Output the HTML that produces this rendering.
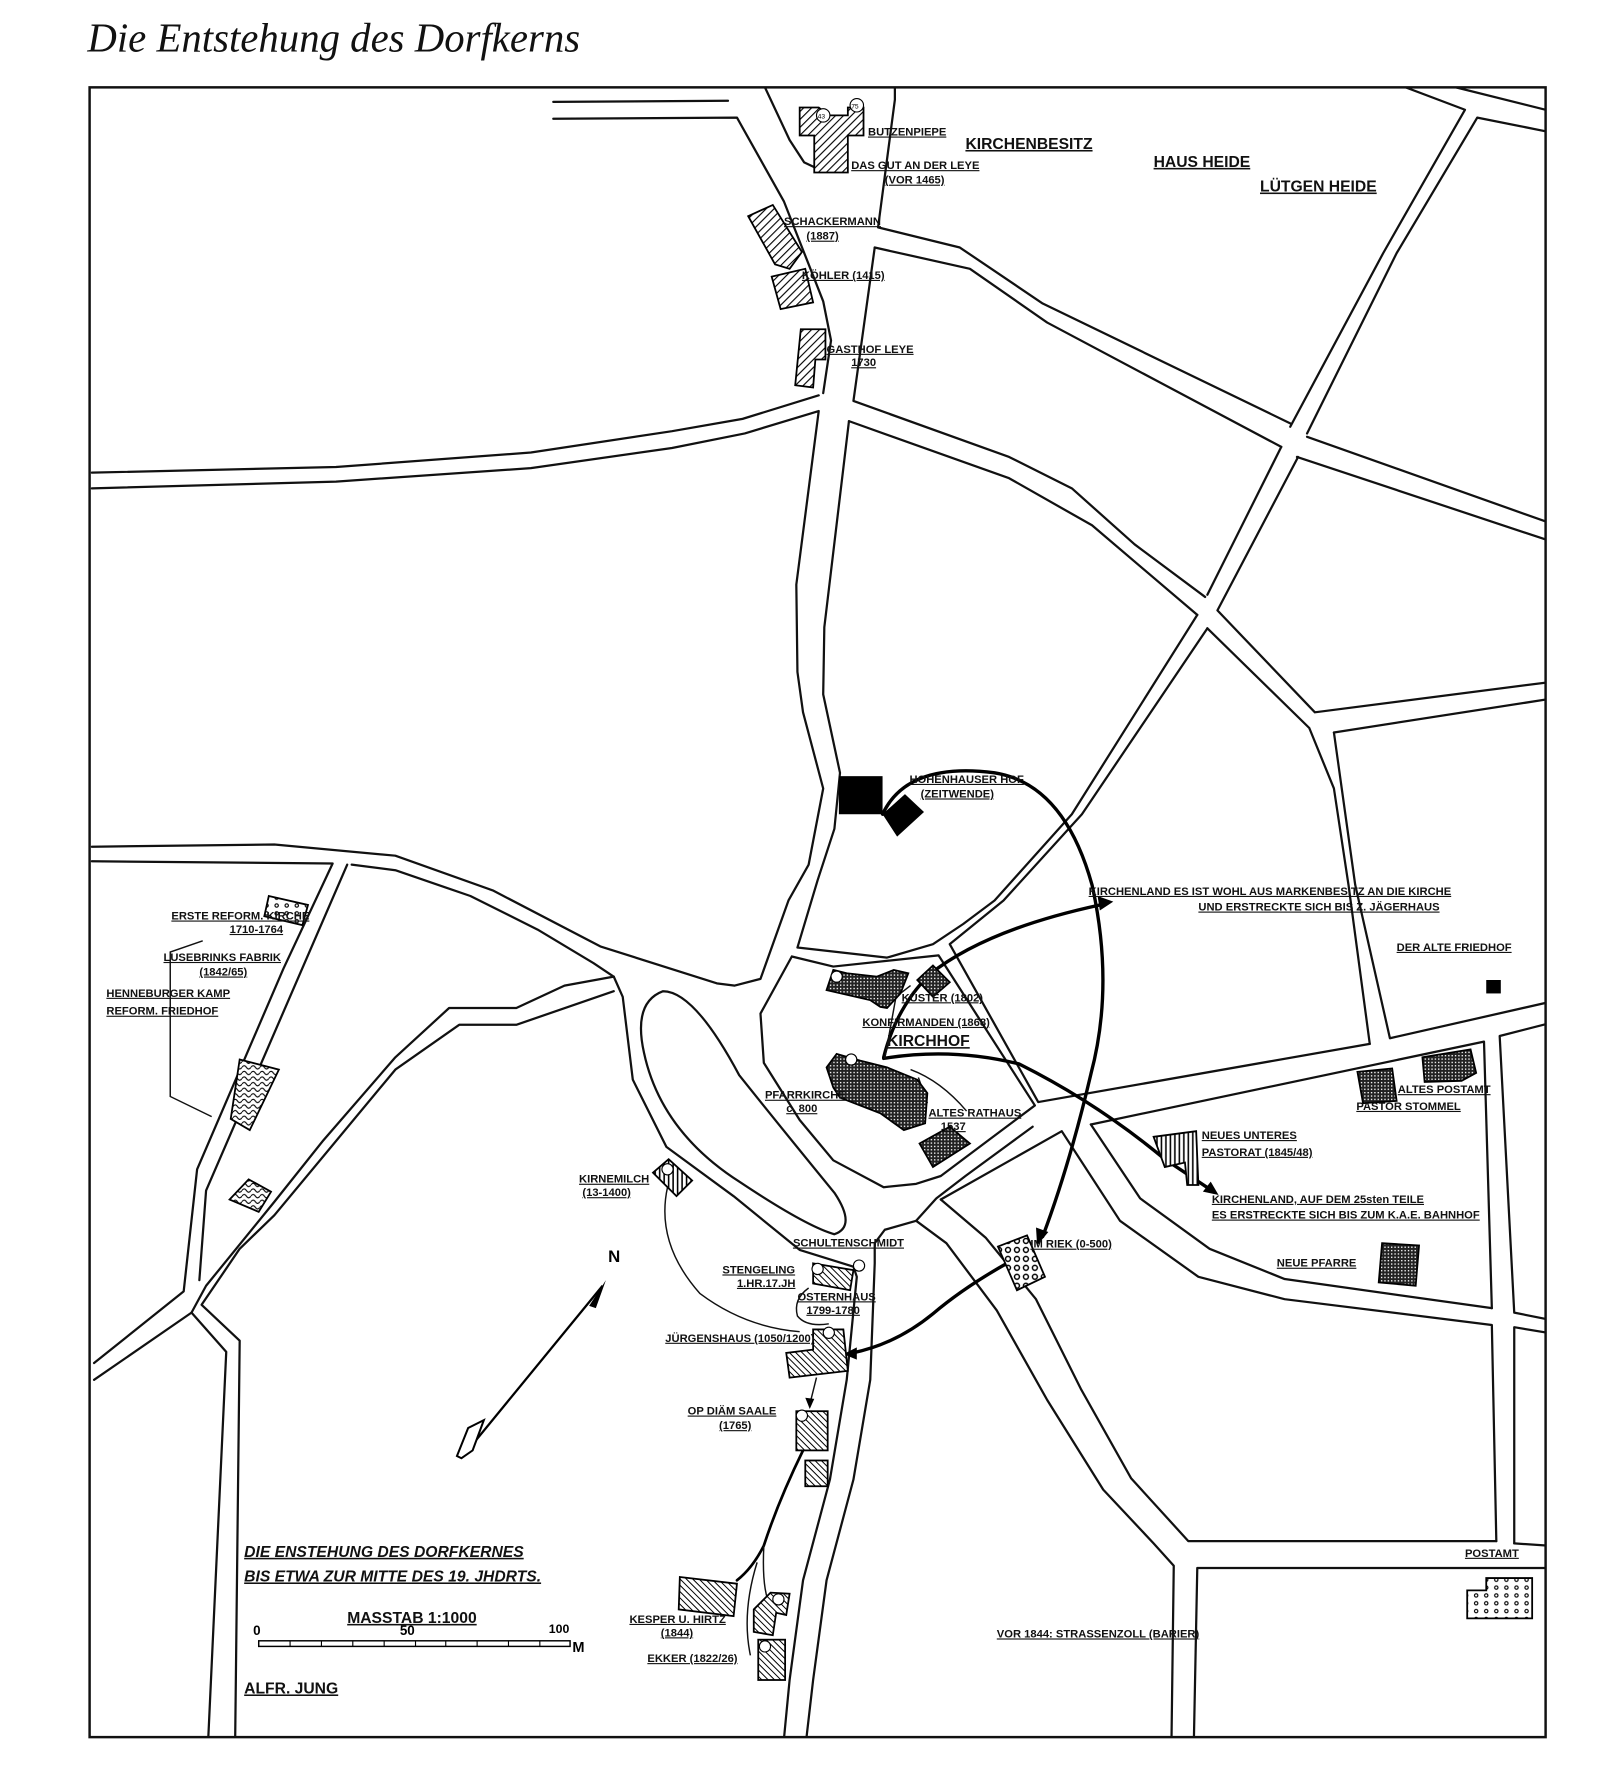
<!DOCTYPE html>
<html><head><meta charset="utf-8"><style>
html,body{margin:0;padding:0;background:#fff;}
svg{display:block;}
.l{fill:none;stroke:#111;stroke-width:2;stroke-linejoin:round;stroke-linecap:round;}
.t{fill:none;stroke:#111;stroke-width:1.3;}
.k{fill:none;stroke:#000;stroke-width:3;stroke-linecap:round;}
.b{stroke:#000;stroke-width:1.6;}
text.h{font-family:"Liberation Sans",sans-serif;font-weight:bold;font-size:10px;fill:#111;text-decoration:underline;}
text.m{font-family:"Liberation Sans",sans-serif;font-weight:bold;font-size:14px;fill:#111;text-decoration:underline;}
</style></head><body>
<svg width="1614" height="1765" viewBox="0 0 1614 1765" xmlns="http://www.w3.org/2000/svg">
<defs>
<clipPath id="fr"><rect x="80" y="78" width="1300" height="1473"/></clipPath>
<pattern id="hat" patternUnits="userSpaceOnUse" width="5" height="5" patternTransform="rotate(45)"><rect width="5" height="5" fill="#fff"/><line x1="0" y1="0" x2="0" y2="5" stroke="#000" stroke-width="2"/></pattern>
<pattern id="hat2" patternUnits="userSpaceOnUse" width="4" height="4" patternTransform="rotate(-45)"><rect width="4" height="4" fill="#fff"/><line x1="0" y1="0" x2="0" y2="4" stroke="#000" stroke-width="1.8"/></pattern>
<pattern id="cross" patternUnits="userSpaceOnUse" width="3" height="3"><rect width="3" height="3" fill="#222"/><rect width="1.2" height="1.2" fill="#fff"/></pattern>
<pattern id="vert" patternUnits="userSpaceOnUse" width="4" height="4"><rect width="4" height="4" fill="#fff"/><line x1="1" y1="0" x2="1" y2="4" stroke="#000" stroke-width="1.4"/></pattern>
<pattern id="dots" patternUnits="userSpaceOnUse" width="8" height="8"><rect width="8" height="8" fill="#fff"/><circle cx="4" cy="4" r="2.2" fill="none" stroke="#000" stroke-width="1.3"/></pattern>
<pattern id="dots2" patternUnits="userSpaceOnUse" width="9" height="7"><rect width="9" height="7" fill="#fff"/><circle cx="4" cy="3.5" r="1.5" fill="none" stroke="#000" stroke-width="1"/></pattern>
<pattern id="wave" patternUnits="userSpaceOnUse" width="8" height="5"><rect width="8" height="5" fill="#fff"/><path d="M0 3 Q2 0 4 3 T8 3" fill="none" stroke="#000" stroke-width="1"/></pattern>
</defs>
<g transform="scale(1.12)">
<text x="78" y="46" font-family="Liberation Serif,serif" font-style="italic" font-size="37" textLength="440" lengthAdjust="spacingAndGlyphs" fill="#111">Die Entstehung des Dorfkerns</text>
<rect x="80" y="78" width="1300" height="1473" fill="none" stroke="#111" stroke-width="2.2"/>

<g clip-path="url(#fr)">
<!-- roads -->
<polyline class="l" points="494,91 650,90"/>
<polyline class="l" points="494,106 658,105 700,180 735,269 742,304 735,351"/>
<polyline class="l" points="683,78 705,125 718,145 735,153"/>
<polyline class="l" points="799,78 799,89 784,203 857,221 931,271 1152,378"/>
<polyline class="l" points="1167,390 1384,467"/>
<polyline class="l" points="1158,408 1384,483"/>
<polyline class="l" points="781,221 866,240 935,288 1144,399"/>
<polyline class="l" points="781,221 762,358 901,408 957,436 1013,486 1076,533"/>
<polyline class="l" points="758,376 901,427 975,469 1069,549"/>
<polyline class="l" points="82,422 300,417 474,404 600,385 663,374 731,353"/>
<polyline class="l" points="82,436 300,430 474,418 600,400 665,387 731,367 711,522 712,600 717,636 735,704 722,772 704,804 679,874 656,880 640,878 536,845 440,795 353,764 245,754 82,756"/>
<polyline class="l" points="758,376 736,560 735,620 750,690 745,740 730,786 712,846 792,855 833,843 860,825 888,804 957,727 1069,549"/>
<polyline class="l" points="1255,78 1308,98 1235,226 1152,381"/>
<polyline class="l" points="1144,399 1078,531"/>
<polyline class="l" points="1300,78 1384,99"/>
<polyline class="l" points="1384,118 1319,105 1247,226 1167,387"/>
<polyline class="l" points="1159,408 1087,545 1174,636 1384,609"/>
<polyline class="l" points="1078,561 966,727 896,804 848,843 927,984 1223,932"/>
<polyline class="l" points="1078,561 1169,650 1191,704 1204,790 1223,932"/>
<polyline class="l" points="1191,654 1384,624"/>
<polyline class="l" points="1191,654 1210,790 1241,927 1382,895"/>
<polyline class="l" points="974,1004 1325,930 1332,1168"/>
<polyline class="l" points="1382,914 1339,925 1352,1172 1382,1178"/>
<polyline class="l" points="974,1004 1018,1070 1080,1115 1147,1142 1332,1168"/>
<polyline class="l" points="840,1071 948,1010 1000,1090 1070,1140 1147,1160 1332,1183 1336,1376"/>
<polyline class="l" points="1382,1190 1352,1185 1352,1378"/>
<polyline class="l" points="840,1071 880,1105 925,1160 965,1240 1010,1320 1061,1376 1336,1376"/>
<polyline class="l" points="1352,1378 1382,1380"/>
<polyline class="l" points="1382,1400 1069,1400 1066,1552"/>
<polyline class="l" points="922,1006 862,1050 836,1070 818,1090 845,1110 890,1170 935,1250 985,1330 1030,1378 1048,1398 1046,1552"/>
<polyline class="l" points="818,1090 790,1098 781,1110 781,1128 777,1232 762,1321 738,1411 726,1500 720,1552"/>
<polyline class="l" points="548,872 556,890 565,964 595,1024 655,1068 714,1116 762,1131 765,1140 756,1232 741,1321 717,1411 705,1500 700,1552"/>
<path class="l" d="M592,885 Q565,895 575,940 Q590,1010 660,1055 Q720,1095 745,1102 Q765,1095 745,1065 Q700,1010 660,960 Q620,885 592,885 Z"/>
<polyline class="l" points="707,854 744,863 838,853 924,987 880,1020 840,1050 818,1057 789,1060 744,1036 714,1000 682,949 679,905 707,854"/>
<polyline class="l" points="82,769 297,771 253,865 176,1044 164,1153 84,1217"/>
<polyline class="l" points="314,772 353,777 420,800 480,830 530,860 548,872 504,880 461,900 401,900 353,944 288,1019 245,1073 184,1148 171,1172 84,1232"/>
<polyline class="l" points="548,885 461,915 410,915 353,955 245,1085 214,1115 180,1165 214,1197 210,1551"/>
<polyline class="l" points="310,772 184,1063 178,1143"/>
<polyline class="l" points="171,1172 202,1207 186,1551"/>
</g>
<!-- Henneburger Kamp outline -->
<polyline class="t" points="181,840 152,850 152,979 189,997"/>
<!-- property / history lines -->
<path class="t" d="M596,1060 Q585,1110 625,1155 Q665,1185 714,1189"/>
<path class="t" d="M722,1150 Q708,1160 712,1175 Q720,1185 740,1182"/>
<path class="k" d="M788,727 Q810,680 888,690 Q950,700 975,790 Q995,880 974,959 Q955,1040 931,1104"/>
<polygon points="926,1112 925,1096 936,1100" fill="#000"/>
<path class="k" d="M789,944 Q800,900 830,870 Q880,830 982,808"/>
<polygon points="994,805 980,800 982,813" fill="#000"/>
<path class="k" d="M789,945 Q850,935 910,950 Q980,985 1040,1035 L1082,1063"/>
<polygon points="1088,1067 1074,1064 1081,1055" fill="#000"/>
<path class="k" d="M899,1128 Q860,1150 833,1173 Q800,1200 761,1208"/>
<polygon points="753,1209 765,1203 765,1214" fill="#000"/>
<path class="t" d="M790,945 L800,890 L813,880"/>
<path class="t" d="M813,955 Q840,965 863,992"/>
<path class="t" d="M820,962 L828,985"/>
<path class="t" d="M729,1230 L723,1254"/><polygon points="723,1258 719,1248 727,1249" fill="#000"/>
<path class="k" d="M717,1295 Q695,1340 682,1380 Q672,1400 658,1411" style="stroke-width:2.4"/>
<path class="t" d="M682,1380 Q680,1420 688,1434"/>
<path class="t" d="M676,1395 Q662,1440 670,1478"/>

<!-- buildings -->
<polygon class="b" fill="url(#hat)" points="714,96 731,96 740,103 757,103 757,96 771,96 771,121 757,121 757,154 727,154 727,121 714,121"/>
<circle cx="735" cy="103" r="6" fill="#fff" stroke="#000" stroke-width="1"/><circle cx="765" cy="94" r="6" fill="#fff" stroke="#000" stroke-width="1"/>
<text x="730" y="106" font-size="6" font-family="Liberation Sans">43</text><text x="760" y="97" font-size="6" font-family="Liberation Sans">75</text>
<polygon class="b" fill="url(#hat)" points="668,193 690,183 716,225 705,240 692,236"/>
<polygon class="b" fill="url(#hat)" points="689,247 719,240 726,270 697,276"/>
<polygon class="b" fill="url(#hat)" points="715,294 737,294 737,321 728,321 726,346 710,344"/>
<rect x="749" y="693" width="39" height="34" fill="#000"/>
<polygon points="788,727 808,709 825,725 801,747" fill="#000"/>
<polygon class="b" fill="url(#cross)" points="744,866 756,869 783,872 798,866 811,869 804,887 792,900 786,899 777,893 738,884"/>
<circle cx="747" cy="872" r="5" fill="#fff" stroke="#000"/>
<polygon class="b" fill="url(#cross)" points="819,875 833,862 848,877 833,890"/>
<polygon class="b" fill="url(#cross)" points="738,953 747,941 768,947 792,953 819,964 828,976 826,1003 807,1009 786,994 750,980 744,971"/>
<circle cx="760" cy="946" r="5" fill="#fff" stroke="#000"/>
<polygon class="b" fill="url(#cross)" points="821,1021 848,1006 866,1021 833,1042"/>
<polygon class="b" fill="url(#vert)" points="583,1047 597,1035 618,1054 604,1068"/>
<circle cx="596" cy="1044" r="5" fill="#fff" stroke="#000"/>
<polygon class="b" fill="url(#hat2)" points="726,1128 762,1134 759,1152 726,1146"/>
<circle cx="730" cy="1133" r="5" fill="#fff" stroke="#000"/><circle cx="767" cy="1130" r="5" fill="#fff" stroke="#000"/>
<polygon class="b" fill="url(#hat2)" points="726,1187 753,1187 757,1224 705,1230 702,1208 726,1205"/>
<circle cx="740" cy="1190" r="5" fill="#fff" stroke="#000"/>
<rect class="b" x="711" y="1260" width="28" height="35" fill="url(#hat2)"/>
<circle cx="716" cy="1264" r="5" fill="#fff" stroke="#000"/>
<rect class="b" x="719" y="1304" width="20" height="23" fill="url(#hat2)"/>
<polygon class="b" fill="url(#hat2)" points="607,1408 658,1414 655,1443 606,1437"/>
<polygon class="b" fill="url(#hat2)" points="673,1437 688,1422 705,1423 702,1442 693,1440 690,1460 673,1457"/>
<circle cx="695" cy="1428" r="5" fill="#fff" stroke="#000"/>
<rect class="b" x="677" y="1464" width="24" height="36" fill="url(#hat2)"/>
<circle cx="683" cy="1470" r="5" fill="#fff" stroke="#000"/>
<polygon class="b" fill="url(#dots)" points="891,1113 917,1103 933,1140 908,1152"/>
<polygon class="b" fill="url(#dots2)" points="240,800 275,808 270,826 236,818"/>
<polygon class="b" fill="url(#wave)" points="214,946 249,955 223,1009 206,999"/>
<polygon class="b" fill="url(#wave)" points="205,1071 222,1053 242,1064 231,1082"/>
<rect x="1327" y="875" width="13" height="12" fill="#000"/>
<polygon class="b" fill="url(#cross)" points="1212,957 1243,954 1247,983 1217,985"/>
<polygon class="b" fill="url(#cross)" points="1270,944 1313,937 1318,958 1305,965 1272,966"/>
<polygon class="b" fill="url(#vert)" points="1030,1015 1068,1010 1070,1058 1060,1058 1058,1038 1040,1042"/>
<polygon class="b" fill="url(#cross)" points="1234,1110 1267,1112 1264,1148 1231,1145"/>
<polygon class="b" fill="url(#dots2)" points="1310,1420 1327,1420 1327,1409 1368,1409 1368,1445 1310,1445"/>

<!-- north arrow -->
<line x1="420" y1="1292" x2="538" y2="1148" stroke="#000" stroke-width="2"/>
<polygon points="541,1143 526,1166 532,1168" fill="#000"/>
<polygon points="408,1300 418,1275 432,1268 422,1295 412,1302" fill="#fff" stroke="#000" stroke-width="1.8"/>
<text x="543" y="1127" font-family="Liberation Sans" font-weight="bold" font-size="15">N</text>

<!-- scale bar -->
<rect x="231" y="1465" width="278" height="5" fill="#fff" stroke="#000" stroke-width="1.3"/>
<path d="M259 1465v5M287 1465v5M315 1465v5M343 1465v5M371 1465v5M398 1465v5M426 1465v5M454 1465v5M482 1465v5" stroke="#000" stroke-width="1"/>
<text x="226" y="1460" font-family="Liberation Sans" font-weight="bold" font-size="12">0</text>
<text x="357" y="1460" font-family="Liberation Sans" font-weight="bold" font-size="12">50</text>
<text x="490" y="1458" font-family="Liberation Sans" font-weight="bold" font-size="11">100</text>
<text x="511" y="1475" font-family="Liberation Sans" font-weight="bold" font-size="13">M</text>

<!-- labels -->
<text class="h" x="775" y="121">BUTZENPIEPE</text>
<text class="m" x="862" y="133">KIRCHENBESITZ</text>
<text class="h" x="760" y="151">DAS GUT AN DER LEYE</text>
<text class="h" x="790" y="164">(VOR 1465)</text>
<text class="m" x="1030" y="149">HAUS HEIDE</text>
<text class="m" x="1125" y="171">LÜTGEN HEIDE</text>
<text class="h" x="700" y="201">SCHACKERMANN</text>
<text class="h" x="720" y="214">(1887)</text>
<text class="h" x="716" y="249">KÖHLER (1415)</text>
<text class="h" x="738" y="315">GASTHOF LEYE</text>
<text class="h" x="760" y="327">1730</text>
<text class="h" x="812" y="699">HOHENHAUSER HOF</text>
<text class="h" x="822" y="712">(ZEITWENDE)</text>
<text class="h" x="972" y="799">KIRCHENLAND  ES IST WOHL AUS MARKENBESITZ AN DIE KIRCHE</text>
<text class="h" x="1070" y="813">UND ERSTRECKTE SICH BIS Z. JÄGERHAUS</text>
<text class="h" x="1247" y="849">DER ALTE FRIEDHOF</text>
<text class="h" x="153" y="821" font-size="9">ERSTE REFORM. KIRCHE</text>
<text class="h" x="205" y="833" font-size="8">1710-1764</text>
<text class="h" x="146" y="858" font-size="9">LUSEBRINKS FABRIK</text>
<text class="h" x="178" y="871" font-size="8">(1842/65)</text>
<text class="h" x="95" y="890">HENNEBURGER KAMP</text>
<text class="h" x="95" y="906">REFORM. FRIEDHOF</text>
<text class="h" x="805" y="894" font-size="9">KÜSTER (1802)</text>
<text class="h" x="770" y="916" font-size="9">KONFIRMANDEN (1868)</text>
<text class="m" x="792" y="934" font-size="12">KIRCHHOF</text>
<text class="h" x="683" y="981" font-size="9">PFARRKIRCHE</text>
<text class="h" x="702" y="993" font-size="8">c. 800</text>
<text class="h" x="829" y="997" font-size="9">ALTES RATHAUS</text>
<text class="h" x="840" y="1009" font-size="8">1537</text>
<text class="h" x="1248" y="976">ALTES POSTAMT</text>
<text class="h" x="1211" y="991">PASTOR STOMMEL</text>
<text class="h" x="1073" y="1017">NEUES UNTERES</text>
<text class="h" x="1073" y="1032">PASTORAT (1845/48)</text>
<text class="h" x="1082" y="1074">KIRCHENLAND, AUF DEM 25sten TEILE</text>
<text class="h" x="1082" y="1088">ES ERSTRECKTE SICH BIS ZUM K.A.E. BAHNHOF</text>
<text class="h" x="1140" y="1131">NEUE PFARRE</text>
<text class="h" x="920" y="1114">IM RIEK (0-500)</text>
<text class="h" x="517" y="1056" font-size="9">KIRNEMILCH</text>
<text class="h" x="520" y="1068" font-size="8">(13-1400)</text>
<text class="h" x="708" y="1113" font-size="7">SCHULTENSCHMIDT</text>
<text class="h" x="645" y="1137">STENGELING</text>
<text class="h" x="658" y="1149" font-size="8">1.HR.17.JH</text>
<text class="h" x="712" y="1161" font-size="8">OSTERNHAUS</text>
<text class="h" x="720" y="1173" font-size="7">1799-1780</text>
<text class="h" x="594" y="1198">JÜRGENSHAUS (1050/1200)</text>
<text class="h" x="614" y="1263">OP DIÄM SAALE</text>
<text class="h" x="642" y="1276">(1765)</text>
<text class="m" x="218" y="1390" font-size="13" font-style="italic">DIE ENSTEHUNG DES DORFKERNES</text>
<text class="m" x="218" y="1412" font-size="13" font-style="italic">BIS ETWA ZUR MITTE DES 19. JHDRTS.</text>
<text class="m" x="310" y="1449" font-size="13">MASSTAB 1:1000</text>
<text class="m" x="218" y="1512" font-size="13">ALFR. JUNG</text>
<text class="h" x="562" y="1449">KESPER U. HIRTZ</text>
<text class="h" x="590" y="1461">(1844)</text>
<text class="h" x="578" y="1484">EKKER (1822/26)</text>
<text class="h" x="890" y="1462">VOR 1844: STRASSENZOLL (BARIER)</text>
<text class="h" x="1308" y="1390">POSTAMT</text>
</g>
</svg>
</body></html>
